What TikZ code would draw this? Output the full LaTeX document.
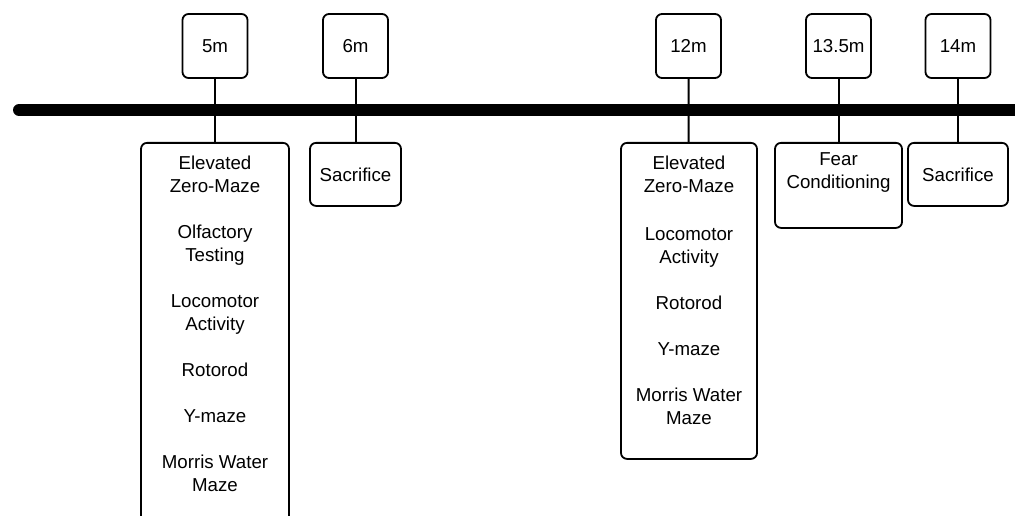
\documentclass[tikz,border=0pt]{standalone}
\usepackage{fontspec}
\setmainfont{Liberation Sans}
\newcommand{\tasklist}[3]{\parbox[t][#2][t]{#1}{\centering #3}}
\begin{document}
\begin{tikzpicture}[x=1pt, y=-1pt, line width=1.8pt, font=\fontsize{18.7}{23}\selectfont]
\tikzstyle{month}=[draw, rounded corners=6pt, minimum width=65pt, minimum height=64pt, inner sep=0pt]
\tikzstyle{task}=[draw, rounded corners=6pt, anchor=north, inner xsep=4pt, inner ysep=13pt]
\useasboundingbox (0,0) rectangle (1015,516);

% time points
\node[month] (m5) at (215,46) {5m};
\node[month] (m6) at (355.5,46) {6m};
\node[month] (m12) at (688.5,46) {12m};
\node[month] (m13) at (838.5,46) {13.5m};
\node[month] (m14) at (958,46) {14m};

% experiments
\node[task] (e5) at (215,142) {\tasklist{140pt}{374pt}{Elevated\\Zero-Maze\\[23pt]
  Olfactory\\Testing\\[23pt] Locomotor\\Activity\\[23pt] Rotorod\\[23pt]
  Y-maze\\[23pt] Morris Water\\Maze}};
\node[task, minimum width=91pt, minimum height=63pt] (e6) at (355.5,142) {Sacrifice};
\node[task] (e12) at (689,142) {\tasklist{128pt}{290pt}{Elevated\\Zero-Maze\\[25pt]
  Locomotor\\Activity\\[23pt] Rotorod\\[23pt] Y-maze\\[23pt] Morris Water\\Maze}};
\node[task, inner ysep=10pt] (e13) at (838.5,142) {\tasklist{119pt}{65pt}{Fear\\Conditioning}};
\node[task, minimum width=100pt, minimum height=63pt] (e14) at (958,142) {Sacrifice};

\draw[line width=2pt] (m5) edge (e5);
\draw[line width=2pt] (m6) edge (e6);
\draw[line width=2pt] (m12) edge (e12);
\draw[line width=2pt] (m13) edge (e13);
\draw[line width=2pt] (m14) edge (e14);

% timeline
\coordinate (start) at (19,110);
\coordinate (end) at (1030,110);
\draw[line width=12pt, line cap=round] (start) -- (end);
\end{tikzpicture}
\end{document}
